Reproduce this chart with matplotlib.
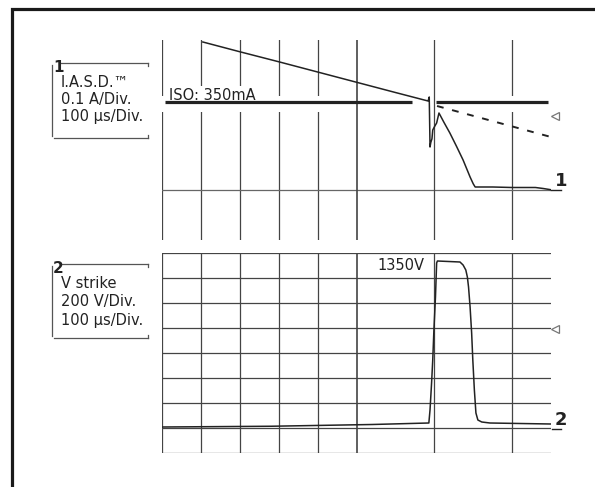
import matplotlib
matplotlib.use('Agg')
import matplotlib.pyplot as plt
from matplotlib.lines import Line2D
from matplotlib.patches import Rectangle

FIG_W, FIG_H = 595, 487

# time axis, 100 us/div, 10 div
grid_t = [0, 100, 200, 300, 400, 500, 700, 900]

# channel 1: current (A), 0.1 A/div
cur_t = [105, 200, 300, 400, 500, 600, 684, 687, 689, 691, 694, 696, 700, 706,
         712, 725, 740, 757, 774, 792, 800, 805, 850, 900, 960, 980, 1000]
cur_a = [0.592, 0.553, 0.513, 0.472, 0.431, 0.390, 0.356, 0.372, 0.172, 0.190,
         0.205, 0.240, 0.252, 0.268, 0.308, 0.270, 0.228, 0.175, 0.120, 0.052,
         0.025, 0.012, 0.012, 0.010, 0.010, 0.006, 0.001]
iso_level = 0.352
iso_left_t = [8, 643]
iso_right_t = [704, 992]
dash_t = [707, 1000]
dash_a = [0.336, 0.212]

# channel 2: strike voltage (V), 200 V/div
volt_grid = [-200, 0, 200, 400, 600, 800, 1000, 1200, 1400]
volt_t = [0, 280, 540, 686, 689, 693, 696, 699, 703, 706, 708, 766, 774, 781,
          785, 788, 792, 796, 799, 803, 807, 812, 822, 843, 920, 1000]
volt_v = [8, 14, 28, 40, 144, 360, 544, 784, 1048, 1320, 1336, 1328, 1304,
          1264, 1208, 1128, 968, 760, 544, 304, 120, 64, 48, 40, 36, 32]

INK = '#222222'
GRID = '#444444'
FONT = 'DejaVu Sans'


def fx(x):
    return x / FIG_W


def fy(y):
    return 1 - y / FIG_H


fig = plt.figure(figsize=(FIG_W / 100, FIG_H / 100), dpi=100)

# outer frame (runs off the right/bottom edge)
fig.patches.append(Rectangle((fx(12), fy(600)), 1.2, fy(9) - fy(600),
                             transform=fig.transFigure, fill=False,
                             ec='#1a1a1a', lw=2.3))

# ---- upper panel: current ----
ax1 = fig.add_axes([fx(162), fy(240), fx(551) - fx(162), fy(40) - fy(240)])
ax1.set_xlim(0, 1000)
ax1.set_ylim(-0.2, 0.6)
ax1.axis('off')
for t in grid_t:
    lw = 1.2 if t == 500 else 0.9
    z = 4 if t in (500, 700) else 1
    ax1.plot([t, t], [-0.2, 0.6], color=GRID, lw=lw, zorder=z)
ax1.plot([0, 1000], [0, 0], color='#666666', lw=0.9, zorder=1)
# white gap around the ISO line
ax1.fill_between([0, 995], [0.312, 0.312], [0.378, 0.378], color='white',
                 lw=0, zorder=2)
ax1.plot(iso_left_t, [iso_level] * 2, color=INK, lw=2.3, zorder=5,
         solid_capstyle='butt')
ax1.plot(iso_right_t, [iso_level] * 2, color=INK, lw=2.3, zorder=5,
         solid_capstyle='butt')
ax1.text(18, 0.36, 'ISO: 350mA', fontsize=10.5, family=FONT, color=INK,
         va='baseline', ha='left', zorder=3,
         bbox=dict(fc='white', ec='none', pad=1.5))
ax1.plot(cur_t, cur_a, color=INK, lw=1.1, zorder=6)
ax1.plot(dash_t, dash_a, color=INK, lw=1.4, dashes=(3.5, 4.5), zorder=6)
ax1.plot([1000, 1025], [0, 0], color=INK, lw=1.0, clip_on=False)
ax1.plot([1010], [0.296], marker='<', ms=6, mfc='white', mec='#777777',
         mew=0.9, clip_on=False)

# ---- lower panel: voltage ----
ax2 = fig.add_axes([fx(162), fy(453), fx(551) - fx(162), fy(253) - fy(453)])
ax2.set_xlim(0, 1000)
ax2.set_ylim(-200, 1400)
ax2.axis('off')
for t in grid_t:
    lw = 1.2 if t == 500 else 0.9
    ax2.plot([t, t], [-200, 1400], color=GRID, lw=lw, zorder=1)
for v in volt_grid:
    ax2.plot([0, 1000], [v, v], color=GRID, lw=0.9, zorder=1)
ax2.plot(volt_t, volt_v, color=INK, lw=1.1, zorder=5)
ax2.text(555, 1264, '1350V', fontsize=10.5, family=FONT, color=INK,
         va='baseline', ha='left')
ax2.plot([1003, 1025], [-8, -8], color=INK, lw=1.0, clip_on=False)
ax2.plot([1010], [792], marker='<', ms=6, mfc='white', mec='#777777',
         mew=0.9, clip_on=False)

# channel markers at the right
fig.text(fx(555), fy(186), '1', fontsize=13, fontweight='bold',
         family=FONT, color=INK, va='baseline')
fig.text(fx(555), fy(425), '2', fontsize=13, fontweight='bold',
         family=FONT, color=INK, va='baseline')


# ---- channel legend boxes ----
def channel_box(num, top, bottom, lines, bases):
    c = '#555555'
    fig.add_artist(Line2D([fx(61), fx(148)], [fy(top), fy(top)], color=c,
                          lw=0.9, transform=fig.transFigure))
    fig.add_artist(Line2D([fx(52), fx(52)], [fy(top + 2), fy(bottom - 2)],
                          color=c, lw=0.9, transform=fig.transFigure))
    fig.add_artist(Line2D([fx(54), fx(148)], [fy(bottom), fy(bottom)],
                          color=c, lw=0.9, transform=fig.transFigure))
    fig.add_artist(Line2D([fx(148), fx(148)], [fy(top), fy(top + 3)],
                          color=c, lw=0.9, transform=fig.transFigure))
    fig.add_artist(Line2D([fx(148), fx(148)], [fy(bottom - 3), fy(bottom)],
                          color=c, lw=0.9, transform=fig.transFigure))
    fig.text(fx(53), fy(top + 9), num, fontsize=11, fontweight='bold',
             family=FONT, color=INK, va='baseline')
    for s, b in zip(lines, bases):
        fig.text(fx(61), fy(b), s, fontsize=10.5, family=FONT, color=INK,
                 va='baseline')


channel_box('1', 63, 138, ['I.A.S.D.\u2122', '0.1 A/Div.', '100 \u00b5s/Div.'],
            [87, 104, 121])
channel_box('2', 264, 338, ['V strike', '200 V/Div.', '100 \u00b5s/Div.'],
            [288, 306, 325])

fig.savefig('out.png', dpi=100)
